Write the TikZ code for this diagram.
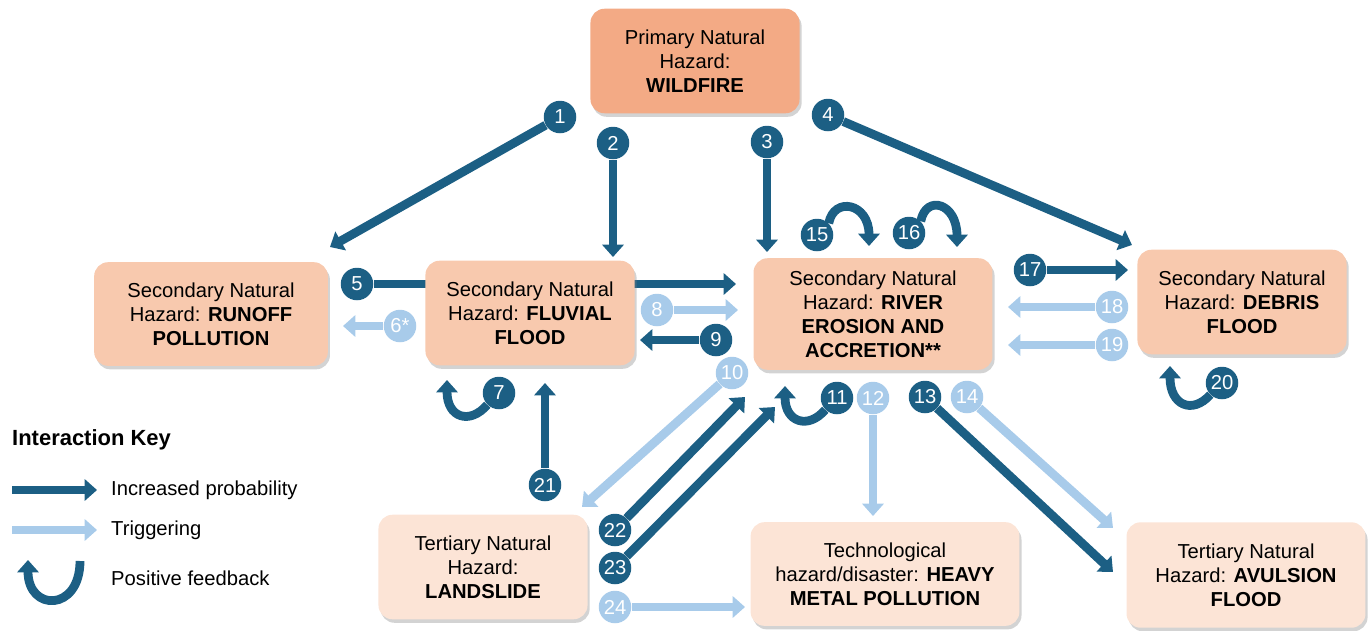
\documentclass[tikz,border=0pt]{standalone}
\usepackage{fontspec}
\setmainfont{Liberation Sans}
\usetikzlibrary{arrows.meta,shadows,backgrounds}
\definecolor{hzdark}{HTML}{1C5F84}
\definecolor{hzlight}{HTML}{A8CBEA}
\definecolor{primfill}{HTML}{F3AA85}
\definecolor{secfill}{HTML}{F8C9AE}
\definecolor{terfill}{HTML}{FCE4D6}
\tikzset{
  hazard/.style={rounded corners=8pt, inner sep=0pt, align=center,
    font=\fontsize{11.5}{13.6}\selectfont,
    drop shadow={shadow xshift=1.2pt, shadow yshift=-2pt, opacity=0.35}},
  incr/.style={draw=hzdark, line width=5pt, -{Triangle[width=12pt,length=7pt]}},
  trig/.style={incr, draw=hzlight},
  fback/.style={incr},
  dnum/.style={circle, fill=hzdark, text=white, minimum size=18.5pt, inner sep=0pt,
    font=\fontsize{11.5}{12}\selectfont},
  lnum/.style={dnum, fill=hzlight},
  keytext/.style={anchor=west, font=\fontsize{11.5}{13}\selectfont},
}
\begin{document}
\begin{tikzpicture}[x=0.02cm,y=-0.02cm]
  \useasboundingbox (0,0) rectangle (1370,630);
  % hazard boxes
  \node[hazard, fill=primfill, minimum width=119pt, minimum height=59.5pt] (wildfire) at (695,61)
    {Primary Natural\\Hazard:\\\textbf{WILDFIRE}};
  \node[hazard, fill=secfill, minimum width=133pt, minimum height=59pt] (runoff) at (211,314)
    {Secondary Natural\\Hazard: \textbf{RUNOFF}\\\textbf{POLLUTION}};
  \node[hazard, fill=secfill, minimum width=119pt, minimum height=59.5pt] (fluvial) at (530,313)
    {Secondary Natural\\Hazard: \textbf{FLUVIAL}\\\textbf{FLOOD}};
  \node[hazard, fill=secfill, minimum width=136pt, minimum height=63.5pt] (erosion) at (873,314)
    {Secondary Natural\\Hazard: \textbf{RIVER}\\\textbf{EROSION AND}\\\textbf{ACCRETION**}};
  \node[hazard, fill=secfill, minimum width=119pt, minimum height=59.5pt] (debris) at (1242,302)
    {Secondary Natural\\Hazard: \textbf{DEBRIS}\\\textbf{FLOOD}};
  \node[hazard, fill=terfill, minimum width=119pt, minimum height=59.5pt] (landslide) at (483,567)
    {Tertiary Natural\\Hazard:\\\textbf{LANDSLIDE}};
  \node[hazard, fill=terfill, minimum width=153pt, minimum height=59pt] (metal) at (885,574)
    {Technological\\hazard/disaster: \textbf{HEAVY}\\\textbf{METAL POLLUTION}};
  \node[hazard, fill=terfill, minimum width=136pt, minimum height=60pt] (avulsion) at (1246,575)
    {Tertiary Natural\\Hazard: \textbf{AVULSION}\\\textbf{FLOOD}};

  % numbered markers
  \foreach \n/\x/\y in {1/560/117, 2/613/143, 3/767/142, 4/828/115, 5/357/284, 7/499/393,
      9/716/340, 11/837/398, 13/925/397, 15/817/235, 16/909/233, 17/1030/270,
      20/1222/383, 21/545/485, 22/615/530, 23/615/568}
    \node[dnum] (n\n) at (\x,\y) {\n};
  \foreach \n/\x/\y in {8/657/310, 10/732/373, 12/873/398, 14/967/397,
      18/1112/307, 19/1112/345, 24/615/607}
    \node[lnum] (n\n) at (\x,\y) {\n};
  \node[lnum] (n6) at (400,326) {6*};

  % arrow ends
  \coordinate (e1) at (330,247);
  \coordinate (e2) at (613,257);
  \coordinate (e3) at (767,252);
  \coordinate (e4) at (1132,245);
  \coordinate (e5) at (736,284);
  \coordinate (e6) at (343,326);
  \coordinate (e8) at (738,310);
  \coordinate (e9) at (640,340);
  \coordinate (e10) at (582,507);
  \coordinate (e12) at (873,516);
  \coordinate (e13) at (1113,572);
  \coordinate (e14) at (1113,528);
  \coordinate (e17) at (1128,270);
  \coordinate (e18) at (1008,307);
  \coordinate (e19) at (1008,345);
  \coordinate (e21) at (545,383);
  \coordinate (e22) at (745,397);
  \coordinate (e23) at (775,407);
  \coordinate (e24) at (745,607);

  % connectors
  \begin{scope}[on background layer]
    \draw[incr] (n5) -- (e5);
  \end{scope}
  \foreach \n in {1,2,3,4,9,13,17,21,22,23}
    \draw[incr] (n\n) -- (e\n);
  \foreach \n in {6,8,10,12,14,18,19,24}
    \draw[trig] (n\n) -- (e\n);

  % positive feedback loops
  \draw[fback] (n7.south west) .. controls (470,425) and (447,418) .. (447,380);
  \draw[fback] (n11.south west) .. controls (808,430) and (785,422) .. (785,386);
  \draw[fback] (n20.south west) .. controls (1192,415) and (1170,405) .. (1170,366);
  \draw[fback] (n15.north east) .. controls (834,196) and (869,203) .. (869,246);
  \draw[fback] (n16.north east) .. controls (926,194) and (957,203) .. (957,247);

  % interaction key
  \node[anchor=west, font=\bfseries\fontsize{12.5}{14}\selectfont] (keytitle) at (6,440) {Interaction Key};
  \coordinate (k1a) at (12,490);
  \coordinate (k1b) at (97,490);
  \coordinate (k2a) at (12,530);
  \coordinate (k2b) at (97,530);
  \draw[incr] (k1a) -- (k1b);
  \draw[trig] (k2a) -- (k2b);
  \draw[fback] (80,561) .. controls (80,612) and (28,612) .. (28,560);
  \node[keytext] (key1) at (105,490) {Increased probability};
  \node[keytext] (key2) at (105,530) {Triggering};
  \node[keytext] (key3) at (105,578) {Positive feedback};
\end{tikzpicture}
\end{document}
